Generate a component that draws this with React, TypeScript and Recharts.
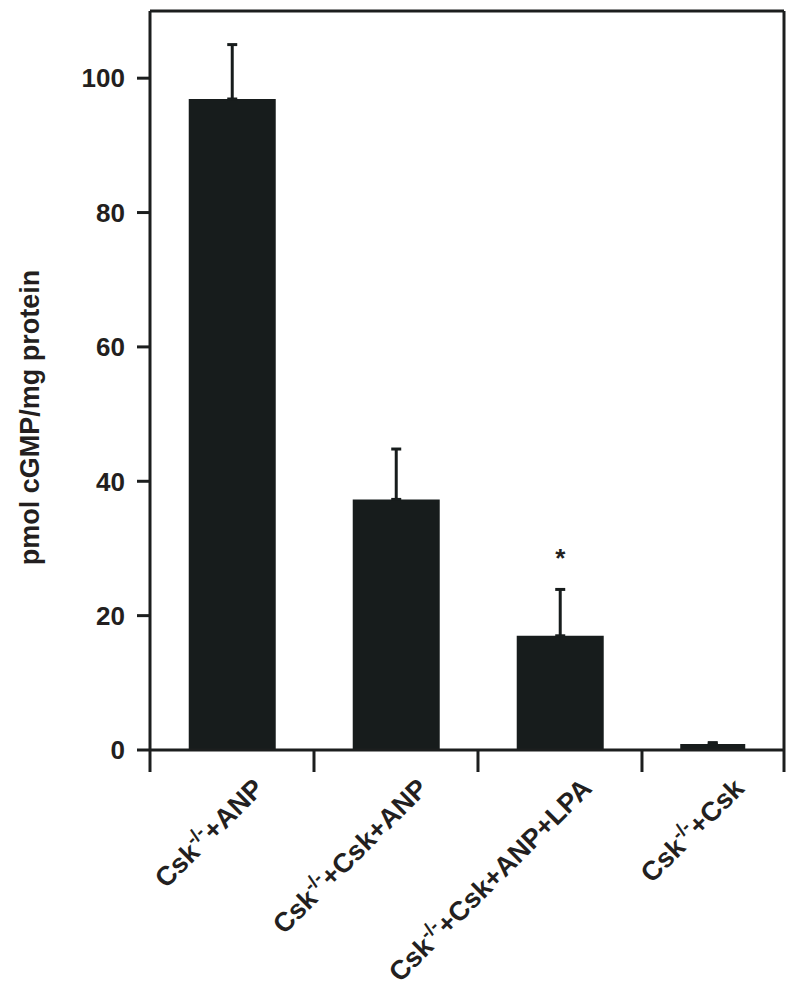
import React from 'react';
import { BarChart, Bar, XAxis, YAxis, ErrorBar, ReferenceLine, LabelList, Label, Rectangle } from 'recharts';

// ---- data ----
const LABEL_BASE = 'Csk';
const LABEL_SUP = '-/-';
const LABEL_SUFFIXES = ['+ANP', '+Csk+ANP', '+Csk+ANP+LPA', '+Csk'];
const MEANS = [96.9, 37.3, 17.0, 0.9];
const ERR_UP = [8.1, 7.5, 6.9, 0.2];
const X_POS = [0.5, 1.5, 2.5, 3.43];
const SIGNIF = ['', '', '*', ''];
const X_BOUNDS = [0, 1, 2, 3, 3.866];
const Y_TICKS = [0, 20, 40, 60, 80, 100];
const Y_MAX = 110;
const Y_LABEL = 'pmol cGMP/mg protein';

// ---- styles ----
const BAR_WIDTHS = [87, 87, 87, 65];
const INK = '#1c1e1e';
const BAR_FILL = '#171c1c';
const FONT = '"Liberation Sans", Arial, Helvetica, sans-serif';

const data = MEANS.map((m, i) => ({
  x: X_POS[i],
  value: m,
  err: [0, ERR_UP[i]],
  suffix: LABEL_SUFFIXES[i],
  sig: SIGNIF[i],
}));

const BarShape = (props: any) => {
  const { x, y, width, height, index } = props;
  const w = BAR_WIDTHS[index] ?? width;
  const cx = x + width / 2;
  return <Rectangle x={cx - w / 2} y={y} width={w} height={height} fill={BAR_FILL} />;
};

const EmptyTick = () => <g />;

const CatLabel = (props: any) => {
  const vb = props.viewBox || props;
  const { x, y, width, height } = vb;
  const idx = props.index;
  const cx = x + width / 2;
  const bottom = y + height;
  const ax = cx + 33;
  const ay = bottom + 40;
  return (
    <text
      x={ax}
      y={ay}
      transform={`rotate(-45 ${ax} ${ay})`}
      textAnchor="end"
      fontFamily={FONT}
      fontWeight="bold"
      fontSize={27}
      fill="#231f20"
    >
      {LABEL_BASE}
      <tspan dy={-11} fontSize={19}>{LABEL_SUP}</tspan>
      <tspan dy={11}>{LABEL_SUFFIXES[idx]}</tspan>
    </text>
  );
};

const SigLabel = (props: any) => {
  const vb = props.viewBox || props;
  const { x, y, width, height } = vb;
  const idx = props.index;
  const s = SIGNIF[idx];
  if (!s) return null;
  const pxPerUnit = height / MEANS[idx];
  const capY = y - ERR_UP[idx] * pxPerUnit;
  return (
    <text x={x + width / 2} y={capY - 22} textAnchor="middle" fontFamily={FONT} fontWeight="bold" fontSize={26} fill="#231f20">
      {s}
    </text>
  );
};

const YLabel = (props: any) => {
  const vb = props.viewBox;
  const cx = vb.x + 22;
  const cy = vb.y + vb.height / 2 + 37;
  return (
    <text
      x={cx}
      y={cy}
      transform={`rotate(-90 ${cx} ${cy})`}
      textAnchor="middle"
      dominantBaseline="central"
      fontFamily={FONT}
      fontWeight="bold"
      fontSize={27}
      fill="#231f20"
    >
      {Y_LABEL}
    </text>
  );
};

export default function App() {
  return (
    <div style={{ width: 792, height: 980, background: '#fff' }}>
      <BarChart width={792} height={980} data={data} margin={{ top: 3, right: 16, bottom: 0, left: 0 }} barSize={87}>
        <XAxis
          dataKey="x"
          type="number"
          domain={[0, X_BOUNDS[X_BOUNDS.length - 1]]}
          ticks={X_BOUNDS}
          tick={EmptyTick}
          tickSize={22}
          height={238}
          axisLine={{ stroke: INK, strokeWidth: 3 }}
          tickLine={{ stroke: INK, strokeWidth: 3 }}
          interval={0}
          allowDataOverflow
        />
        <YAxis
          type="number"
          domain={[0, Y_MAX]}
          ticks={Y_TICKS}
          width={142}
          tickSize={13}
          tickMargin={12}
          axisLine={{ stroke: INK, strokeWidth: 3 }}
          tickLine={{ stroke: INK, strokeWidth: 3 }}
          tick={{ fontFamily: FONT, fontWeight: 'bold', fontSize: 26, fill: '#231f20' }}
          allowDataOverflow
        >
          <Label content={YLabel} />
        </YAxis>
        <ReferenceLine y={Y_MAX} stroke={INK} strokeWidth={3} />
        <ReferenceLine x={X_BOUNDS[X_BOUNDS.length - 1]} stroke={INK} strokeWidth={3} />
        <Bar dataKey="value" fill={BAR_FILL} isAnimationActive={false} shape={BarShape}>
          <ErrorBar dataKey="err" direction="y" width={5} stroke={BAR_FILL} strokeWidth={3} isAnimationActive={false} />
          <LabelList dataKey="suffix" content={CatLabel} />
          <LabelList dataKey="sig" content={SigLabel} />
        </Bar>
      </BarChart>
    </div>
  );
}
